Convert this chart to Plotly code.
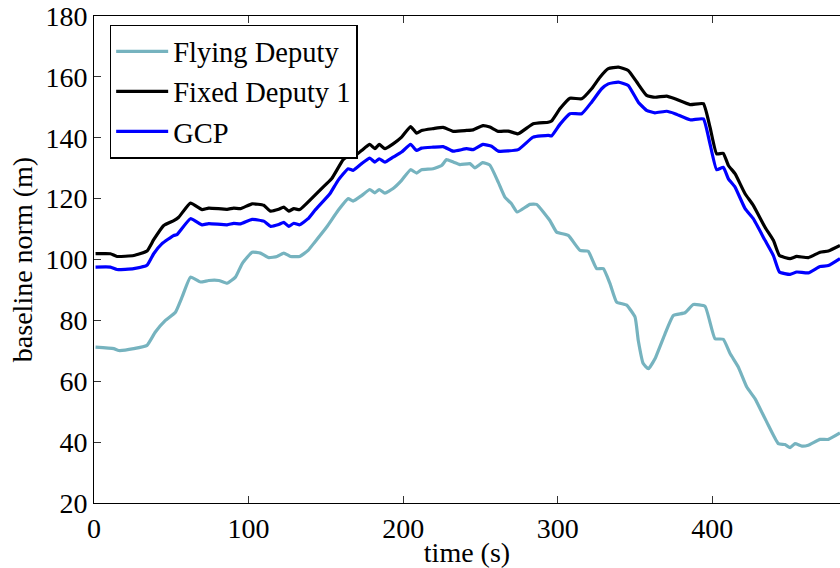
import plotly.graph_objects as go

# ---- data ----
t_fly = [1, 12.8, 16, 25.7, 34.3, 39.7, 46.2, 52.7, 57, 62.4, 68.9, 74.2, 80.7, 86.1, 91.5, 95.8,
         102.3, 107.7, 113.1, 118.4, 122.8, 127.1, 133.1, 138.5, 142.8, 150.4, 157.9, 164.4, 167.6,
         173.1, 178.4, 181.7, 184.5, 188.2, 193.5, 199, 204.8, 208.7, 211.9, 219.4, 224.9, 228.1,
         232.4, 236.7, 243.2, 246.4, 251.4, 256.1, 261.5, 265.8, 270.1, 273.8, 282, 286.3, 294.9,
         299.3, 306.8, 314.4, 319.7, 325.2, 329.5, 333.8, 338.1, 344.6, 350, 352.1, 355.3, 358.6,
         362.9, 369.4, 374.8, 382.3, 387.7, 395.3, 401.7, 407.1, 411.5, 416.8, 422.3, 427.6, 435.2,
         442.7, 447, 450.3, 453.5, 457.9, 462.1, 469.7, 475.1, 482.6]
fly = [71.2, 70.7, 70.1, 70.7, 71.8, 76.2, 80.0, 82.7, 87.7, 94.2, 92.6, 93.1, 93.1, 92.2, 94.2, 98.6,
       102.4, 102.1, 100.6, 101.0, 102.1, 101.0, 101.0, 103.0, 105.7, 110.6, 116.1, 120.0, 119.2,
       121.0, 123.0, 121.9, 123.0, 121.8, 123.3, 126.0, 129.5, 128.4, 129.5, 129.8, 130.9, 132.8,
       132.0, 131.2, 131.5, 130.1, 131.8, 131.0, 125.4, 120.5, 118.3, 115.6, 118.1, 118.1, 112.8,
       109.0, 107.9, 103.0, 102.7, 97.0, 97.0, 92.1, 86.0, 85.0, 81.1, 73.4, 65.8, 64.1,
       67.4, 75.6, 81.6, 82.5, 85.2, 84.6, 74.0, 73.8, 69.1, 64.7, 58.1, 54.3, 46.6,
       39.5, 39.2, 38.2, 39.5, 38.7, 39.0, 40.9, 40.9, 43.0]

t_fixed = [1, 10.6, 14.9, 25.7, 34.3, 38.6, 45.1, 51.6, 54.8, 62.4, 69.9, 74.2, 86.1, 90.4, 94.8,
           102.3, 109.8, 114.2, 119.5, 122.8, 126, 129.3, 133.1, 140.7, 147.2, 153.7, 161.2, 164.4,
           167.6, 173.1, 178.4, 181.7, 184.5, 188.2, 193.5, 199, 204.8, 208.7, 211.9, 219.4, 225.9,
           232.4, 241, 245.3, 251.6, 256.1, 261.5, 268, 274.4, 284.1, 293.9, 296, 301.4, 307.9, 315.5,
           321.9, 327.3, 332.7, 339.2, 345.6, 351.1, 357.5, 362.9, 370.5, 375.9, 385.6, 394.2, 398.5,
           402.8, 407.1, 410.4, 414.7, 421.2, 426.5, 434.1, 439.5, 443.4, 450.3, 454.6, 462.1, 469.7,
           475.1, 482.6]
fixed = [101.9, 101.9, 101.0, 101.3, 102.8, 106.5, 111.2, 112.8, 113.9, 118.5, 116.4, 116.9, 116.5,
         116.9, 116.7, 118.3, 117.8, 115.9, 116.5, 117.2, 115.9, 116.7, 116.4, 120.0, 123.3, 126.5,
         132.8, 133.9, 133.6, 135.8, 137.8, 136.4, 137.8, 136.4, 138.0, 140.2, 143.7, 141.5, 142.4,
         143.0, 143.4, 142.1, 142.4, 142.6, 144.0, 143.5, 142.1, 142.2, 141.3, 144.6, 145.1, 145.5,
         149.5, 153.0, 152.8, 156.1, 159.9, 162.7, 163.2, 162.1, 158.3, 153.9, 153.3, 153.7, 152.8,
         150.9, 151.2, 143.5, 134.7, 134.9, 130.9, 128.2, 121.6, 117.8, 110.6, 106.3, 101.3, 100.3,
         101.0, 100.6, 102.4, 102.8, 104.6]

t_gcp = [1, 10.6, 14.9, 25.7, 34.3, 38.6, 44, 51.6, 53.7, 62.4, 69.9, 74.2, 86.1, 90.4, 94.8,
         102.3, 109.8, 114.2, 119.5, 122.8, 126, 129.3, 133.1, 138.5, 142.8, 152.6, 157.9, 164.4,
         167.6, 173.1, 178.4, 181.7, 184.5, 188.2, 193.5, 199, 204.8, 208.7, 211.9, 219.4, 225.9,
         232.4, 241, 245.3, 251.6, 257.2, 261.5, 274.4, 284.1, 293.9, 296, 301.4, 307.9, 315.5,
         321.9, 328.4, 332.7, 339.2, 345.6, 352.1, 357.5, 362.9, 370.5, 375.9, 385.6, 394.2, 398.5,
         402.8, 407.1, 410.4, 414.7, 421.2, 426.5, 434.1, 439.5, 443.4, 450.3, 454.6, 462.1, 469.7,
         475.1, 482.6]
gcp = [97.5, 97.5, 96.7, 97.0, 98.1, 101.9, 105.2, 107.9, 108.2, 113.4, 111.4, 111.8, 111.4, 111.9,
       111.7, 113.2, 112.6, 110.9, 111.5, 112.2, 110.9, 111.9, 111.4, 113.4, 116.1, 121.6, 126.0,
       129.8, 129.3, 131.5, 133.3, 132.0, 133.1, 132.0, 133.6, 135.3, 137.8, 135.8, 136.6, 136.9,
       137.1, 135.6, 136.4, 136.1, 137.8, 137.2, 135.6, 136.1, 140.2, 140.8, 140.6, 144.4, 147.9,
       147.9, 151.7, 156.1, 157.7, 158.3, 157.2, 151.7, 149.0, 148.2, 148.7, 147.9, 145.9, 146.2,
       138.0, 129.5, 130.3, 126.5, 123.8, 116.7, 113.4, 106.3, 101.3, 95.9, 95.1, 95.9, 95.6, 97.7,
       98.0, 100.3]

x_ticks = [0, 100, 200, 300, 400]
y_ticks = [20, 40, 60, 80, 100, 120, 140, 160, 180]

FONT = "Liberation Serif"

fig = go.Figure()
fig.add_trace(go.Scatter(x=t_fly, y=fly, mode="lines", name="Flying Deputy",
                         line=dict(color="#76B3BF", width=3.2, shape="spline", smoothing=0.4)))
fig.add_trace(go.Scatter(x=t_fixed, y=fixed, mode="lines", name="Fixed Deputy 1",
                         line=dict(color="#000000", width=3.2, shape="spline", smoothing=0.4)))
fig.add_trace(go.Scatter(x=t_gcp, y=gcp, mode="lines", name="GCP",
                         line=dict(color="#0000FF", width=3.2, shape="spline", smoothing=0.4)))

fig.update_layout(
    width=840, height=568,
    margin=dict(l=94, r=0, t=16, b=65),
    paper_bgcolor="white", plot_bgcolor="white",
    font=dict(family=FONT, size=28, color="black"),
    showlegend=True,
    legend=dict(x=0.021, y=0.982, xanchor="left", yanchor="top",
                bgcolor="white", bordercolor="black", borderwidth=1.5,
                font=dict(family=FONT, size=28.5, color="black"),
                tracegroupgap=0, itemwidth=52),
)
fig.update_xaxes(
    range=[0, 482.6], tickvals=x_ticks, ticktext=[str(v) for v in x_ticks],
    showgrid=False, zeroline=False,
    showline=True, linecolor="black", linewidth=1, mirror="ticks",
    ticks="inside", ticklen=7, tickcolor="#333333", tickwidth=1,
    tickfont=dict(family=FONT, size=28),
    title=dict(text="time (s)", font=dict(family=FONT, size=28), standoff=0),
)
fig.update_yaxes(
    range=[20, 180], tickvals=y_ticks, ticktext=[str(v) for v in y_ticks],
    showgrid=False, zeroline=False,
    showline=True, linecolor="black", linewidth=1, mirror=False,
    ticks="inside", ticklen=7, tickcolor="#333333", tickwidth=1,
    tickfont=dict(family=FONT, size=28),
    title=dict(text="baseline norm (m)", font=dict(family=FONT, size=28), standoff=4),
)

fig.write_html("out.html")
